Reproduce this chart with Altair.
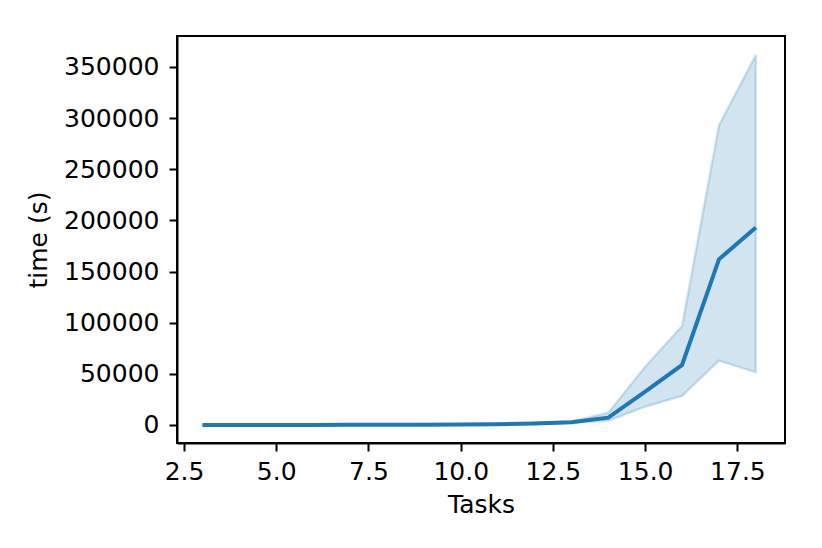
import altair as alt
import pandas as pd

tasks = [3, 4, 5, 6, 7, 8, 9, 10, 11, 12, 13, 14, 15, 16, 17, 18]
mean_time = [50, 60, 80, 100, 130, 180, 250, 400, 700, 1500, 2800, 7200, 32600, 58700, 162000, 193000]
lower_time = [40, 50, 65, 80, 100, 140, 190, 300, 500, 1200, 2300, 4200, 17900, 28400, 62900, 51500]
upper_time = [60, 70, 95, 120, 160, 220, 310, 500, 900, 1900, 3500, 12000, 57000, 96800, 293000, 361700]

y_ticks = [0, 50000, 100000, 150000, 200000, 250000, 300000, 350000]
x_ticks = [2.5, 5.0, 7.5, 10.0, 12.5, 15.0, 17.5]

df = pd.DataFrame({"Tasks": tasks, "mean": mean_time, "lo": lower_time, "hi": upper_time})

BLUE = "#1f77b4"
FONT = "DejaVu Sans"
FS = 25

x_enc = alt.X(
    "Tasks:Q",
    scale=alt.Scale(domain=[2.31, 18.79], nice=False, zero=False),
    axis=alt.Axis(values=x_ticks, format=".1f", title="Tasks"),
)

band = alt.Chart(df).mark_area(
    color=BLUE, fillOpacity=0.2, stroke=BLUE, strokeOpacity=0.2, strokeWidth=2.5
).encode(
    x=x_enc,
    y=alt.Y("lo:Q", scale=alt.Scale(domain=[-17600, 380300], nice=False, zero=False),
            axis=alt.Axis(values=y_ticks, format="d", title="time (s)")),
    y2="hi:Q",
)

line = alt.Chart(df).mark_line(color=BLUE, strokeWidth=4).encode(
    x=x_enc,
    y=alt.Y("mean:Q"),
)

chart = (
    alt.layer(band, line)
    .properties(
        width=608,
        height=407,
        autosize=alt.AutoSizeParams(type="none"),
        padding={"left": 169, "top": 28, "right": 29, "bottom": 97},
    )
    .configure_view(stroke="black", strokeWidth=2)
    .configure_axis(
        grid=False,
        domainColor="black",
        domainWidth=2,
        tickColor="black",
        tickWidth=2,
        tickSize=8,
        labelFont=FONT,
        labelFontSize=FS,
        labelColor="black",
        titleFont=FONT,
        titleFontSize=FS,
        titleFontWeight="normal",
        titleColor="black",
    )
    .configure_axisY(labelPadding=10, titlePadding=12)
    .configure_axisX(labelPadding=8, titlePadding=8)
)

chart.save("out.html", embed_options={"renderer": "svg", "actions": False})
